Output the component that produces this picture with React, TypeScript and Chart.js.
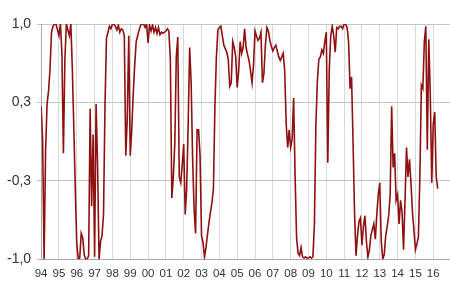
import React, { useEffect, useRef } from 'react';
import { Chart, registerables } from 'chart.js';

Chart.register(...registerables);

// Monthly series, January 1994 to April 2016
const startYear = 1994;
const y1994 = [0.30, 0.02, -1.0, -0.08, 0.32, 0.43, 0.62, 0.93, 0.98, 1.0, 1.0, 0.95];
const y1995 = [0.9, 1.0, 0.75, -0.1, 0.7, 1.0, 0.95, 0.9, 1.0, 0.62, 0.12, -0.4];
const y1996 = [-0.87, -1.0, -0.99, -0.78, -0.82, -0.96, -1.0, -1.0, -0.97, 0.28, -0.55, 0.06];
const y1997 = [-0.98, 0.32, -0.2, -1.0, -0.85, -0.8, -0.62, 0.3, 0.88, 0.93, 0.98, 0.96];
const y1998 = [1.0, 1.0, 0.98, 0.95, 0.99, 0.93, 0.96, 0.95, 0.9, -0.12, 0.2, 0.9];
const y1999 = [-0.12, 0.1, 0.4, 0.65, 0.85, 0.9, 0.95, 0.99, 1.0, 1.0, 0.97, 1.0];
const y2000 = [0.84, 0.99, 0.94, 0.99, 0.93, 0.97, 0.92, 0.97, 0.91, 0.93, 0.92, 0.93];
const y2001 = [0.94, 0.96, 0.94, 0.7, -0.48, -0.3, -0.02, 0.72, 0.89, -0.3, -0.35, -0.2];
const y2002 = [-0.02, -0.62, -0.4, 0.15, 0.8, 0.5, -0.15, -0.58, -0.78, 0.1, 0.1, -0.12];
const y2003 = [-0.8, -0.86, -0.98, -0.9, -0.79, -0.69, -0.6, -0.52, -0.4, 0.3, 0.72, 0.95];
const y2004 = [0.97, 0.98, 0.9, 0.82, 0.79, 0.76, 0.7, 0.47, 0.5, 0.85, 0.8, 0.72];
const y2005 = [0.46, 0.6, 0.85, 0.75, 0.8, 0.96, 0.8, 0.74, 0.69, 0.6, 0.5, 0.65];
const y2006 = [0.94, 0.9, 0.86, 0.88, 0.93, 0.5, 0.58, 0.82, 0.97, 0.94, 0.86, 0.81];
const y2007 = [0.77, 0.8, 0.82, 0.77, 0.72, 0.69, 0.72, 0.75, 0.6, 0.15, -0.05, 0.1];
const y2008 = [-0.05, 0.02, 0.37, -0.3, -0.82, -0.95, -0.97, -0.9, -0.98, -0.99, -0.98, -0.99];
const y2009 = [-0.99, -0.98, -0.99, -0.98, -0.7, 0.15, 0.52, 0.7, 0.72, 0.78, 0.75, 0.85];
const y2010 = [0.93, -0.18, 0.62, 0.9, 0.98, 0.9, 0.76, 0.97, 0.96, 0.98, 0.98, 0.96];
const y2011 = [1.0, 1.0, 0.97, 0.85, 0.45, 0.55, 0.0, -0.6, -0.97, -0.8, -0.68, -0.65];
const y2012 = [-0.88, -0.72, -0.63, -0.85, -0.98, -0.92, -0.8, -0.75, -0.7, -0.83, -0.62, -0.45];
const y2013 = [-0.35, -0.85, -1.0, -0.96, -0.8, -0.72, -0.63, -0.45, 0.3, -0.22, -0.1, -0.5];
const y2014 = [-0.45, -0.7, -0.5, -0.6, -0.92, -0.5, -0.05, -0.3, -0.15, -0.35, -0.6, -0.75];
const y2015 = [-0.92, -0.87, -0.81, -0.3, 0.48, 0.45, 0.85, 0.98, -0.07, 0.87, 0.4, -0.35];
const y2016 = [0.15, 0.25, -0.3, -0.4];

const seriesValues = [
  ...y1994, ...y1995, ...y1996, ...y1997, ...y1998, ...y1999, ...y2000, ...y2001,
  ...y2002, ...y2003, ...y2004, ...y2005, ...y2006, ...y2007, ...y2008, ...y2009,
  ...y2010, ...y2011, ...y2012, ...y2013, ...y2014, ...y2015, ...y2016,
];

const xTickYears = [1994, 1995, 1996, 1997, 1998, 1999, 2000, 2001, 2002, 2003, 2004, 2005,
  2006, 2007, 2008, 2009, 2010, 2011, 2012, 2013, 2014, 2015, 2016];
const xTickLabels = ['94', '95', '96', '97', '98', '99', '00', '01', '02', '03', '04', '05',
  '06', '07', '08', '09', '10', '11', '12', '13', '14', '15', '16'];
const yTickValues = [-1, -1 / 3, 1 / 3, 1];
const yTickLabels = ['-1,0', '-0,3', '0,3', '1,0'];

export default function App() {
  const canvasRef = useRef<HTMLCanvasElement | null>(null);

  useEffect(() => {
    document.body.style.margin = '0';
    const canvas = canvasRef.current;
    if (!canvas) return;
    const points = seriesValues.map((v, i) => ({ x: startYear + i / 12, y: v }));
    const family = '"Liberation Sans", Arial, sans-serif';
    const chart = new Chart(canvas, {
      type: 'line',
      data: {
        datasets: [
          {
            data: points,
            borderColor: '#8e1010',
            borderWidth: 1.6,
            pointRadius: 0,
            tension: 0,
            fill: false,
          },
        ],
      },
      options: {
        responsive: false,
        animation: false,
        devicePixelRatio: 1,
        layout: { padding: { left: 1, top: 24, right: 0, bottom: 2 } },
        plugins: { legend: { display: false }, tooltip: { enabled: false } },
        scales: {
          x: {
            type: 'linear',
            min: 1994,
            max: 2016.94,
            afterBuildTicks: (scale: any) => {
              scale.ticks = xTickYears.map((v) => ({ value: v }));
            },
            ticks: {
              autoSkip: false,
              maxRotation: 0,
              padding: 8,
              color: '#333333',
              font: { family, size: 11.5 },
              callback: (value: any) => {
                const idx = xTickYears.indexOf(Math.round(Number(value)));
                return idx >= 0 ? xTickLabels[idx] : '';
              },
            },
            grid: { color: '#d9d9d9', lineWidth: 1, drawTicks: false },
            border: { display: true, color: '#a6a6a6' },
          },
          y: {
            type: 'linear',
            min: -1,
            max: 1,
            afterBuildTicks: (scale: any) => {
              scale.ticks = yTickValues.map((v) => ({ value: v }));
            },
            ticks: {
              padding: 6,
              color: '#333333',
              font: { family, size: 14 },
              callback: (value: any) => {
                const idx = yTickValues.findIndex((t) => Math.abs(t - Number(value)) < 1e-6);
                return idx >= 0 ? yTickLabels[idx] : '';
              },
            },
            grid: { color: '#c4c4c4', lineWidth: 1, drawTicks: true, tickLength: 4 },
            border: { display: true, color: '#a6a6a6' },
          },
        },
      },
    });
    return () => chart.destroy();
  }, []);

  return (
    <div style={{ width: 450, height: 291 }}>
      <canvas ref={canvasRef} width={450} height={291} style={{ display: 'block', width: 450, height: 291 }} />
    </div>
  );
}
